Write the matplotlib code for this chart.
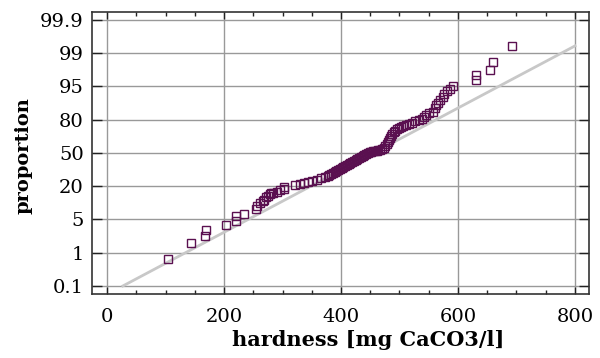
import matplotlib
matplotlib.use('Agg')
import matplotlib.pyplot as plt

# probability plot of water hardness
# y is in tick units: 0 -> 0.1 %, 8 -> 99.9 % (ticks are equally spaced)
prop_labels = ['0.1', '1', '5', '20', '50', '80', '95', '99', '99.9']

hard = [105, 143, 168, 170, 203, 221, 221, 234,
        255, 257, 262, 266, 268, 272, 275, 278, 281, 284, 290, 296, 302, 302,
        322, 330, 336, 343, 351, 359, 366, 372,
        377, 380, 383, 386, 389, 392, 395, 398, 401, 404, 407, 410, 413, 416,
        419, 422, 425, 428, 431, 434, 437, 440, 443, 446, 449, 452, 455, 458,
        461, 464, 467, 470, 473, 476, 478, 480, 482, 484, 486, 488, 490, 493,
        496, 499, 502, 506, 511, 516, 521, 527, 533,
        539, 542, 545, 551, 558, 560, 562, 566, 570, 574, 576, 581, 587, 592,
        631, 631, 655, 659, 692]
prop = [0.80, 1.28, 1.50, 1.68, 1.84, 1.96, 2.10, 2.16,
        2.31, 2.41, 2.49, 2.55, 2.59, 2.67, 2.71, 2.76, 2.79, 2.81, 2.84, 2.89, 2.92, 2.98,
        3.04, 3.06, 3.09, 3.14, 3.17, 3.19, 3.24, 3.27,
        3.30, 3.33, 3.36, 3.39, 3.42, 3.45, 3.48, 3.51, 3.54, 3.57, 3.60, 3.63, 3.66, 3.70,
        3.73, 3.76, 3.79, 3.82, 3.85, 3.88, 3.91, 3.94, 3.97, 4.00, 4.02, 4.04, 4.05, 4.06,
        4.07, 4.08, 4.10, 4.12, 4.15, 4.20, 4.26, 4.32, 4.38, 4.44, 4.50, 4.56, 4.62, 4.67,
        4.71, 4.75, 4.78, 4.81, 4.85, 4.88, 4.91, 4.95, 4.98,
        5.01, 5.09, 5.14, 5.21, 5.24, 5.34, 5.44, 5.51, 5.59, 5.69, 5.77, 5.86, 5.92, 6.02,
        6.20, 6.35, 6.50, 6.75, 7.22]

# fitted normal line
fit_x = [27, 800]
fit_y = [0, 7.22]

plt.rcParams['font.family'] = 'DejaVu Serif'

fig = plt.figure(figsize=(6, 3.58), dpi=100)
ax = fig.add_axes([0.1533, 0.1788, 0.8284, 0.7877])

ax.plot(fit_x, fit_y, color='#c8c8c8', lw=2, zorder=2)
ax.plot(hard, prop, 's', mfc='none', mec='#5a1050', mew=1, ms=5.2, zorder=3)

ax.set_xlim(-25.7, 824)
ax.set_ylim(-0.24, 8.24)
ax.set_xticks([0, 200, 400, 600, 800])
ax.set_xticks(range(0, 801, 50), minor=True)
ax.set_yticks(range(9))
ax.set_yticklabels(prop_labels)
ax.grid(True, color='#999999', lw=1)
ax.set_axisbelow(True)

ax.tick_params(which='both', direction='in', top=True, right=True,
               labelsize=14, color='#222222')
ax.tick_params(which='major', length=5, width=1)
ax.tick_params(which='minor', length=3, width=1)
ax.tick_params(axis='x', pad=10)
ax.tick_params(axis='y', length=7, pad=6)
for s in ax.spines.values():
    s.set_color('#333333')
    s.set_linewidth(1.2)

ax.set_xlabel('hardness [mg CaCO3/l]', fontsize=15, fontweight='bold')
ax.xaxis.set_label_coords(0.555, -0.128)
ax.set_ylabel('proportion', fontsize=14, fontweight='bold')
ax.yaxis.set_label_coords(-0.12, 0.49)

fig.savefig('out.png', dpi=100)
